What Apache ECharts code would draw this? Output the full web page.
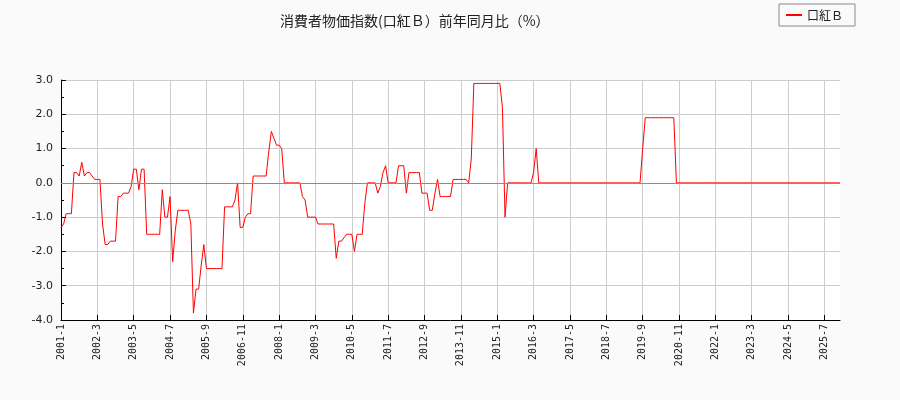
<!DOCTYPE html>
<html>
<head>
<meta charset="utf-8">
<script src="https://cdn.jsdelivr.net/npm/echarts@6/dist/echarts.min.js"></script>
<style>
html,body{margin:0;padding:0;background:#fafafa;}
#c{width:900px;height:400px;}
</style>
</head>
<body>
<div id="c"></div>
<script>
const titleText = '消費者物価指数(口紅Ｂ）前年同月比（%）';
const seriesName = '口紅Ｂ';
const startYear = 2001;
const monthCount = 301; // 2001-1 .. 2026-1
const categories = [];
for (let i = 0; i < monthCount; i++) {
  const y = startYear + Math.floor(i / 12);
  const m = (i % 12) + 1;
  categories.push(y + '-' + m);
}
const values = [
  // 2001
  -1.3, -1.2, -0.9, -0.9, -0.9, 0.3, 0.3, 0.2, 0.6, 0.2, 0.3, 0.3,
  // 2002
  0.2, 0.1, 0.1, 0.1, -1.2, -1.8, -1.8, -1.7, -1.7, -1.7, -0.4, -0.4,
  // 2003
  -0.3, -0.3, -0.3, -0.1, 0.4, 0.4, -0.2, 0.4, 0.4, -1.5, -1.5, -1.5,
  // 2004
  -1.5, -1.5, -1.5, -0.2, -1.0, -1.0, -0.4, -2.3, -1.4, -0.8, -0.8, -0.8,
  // 2005
  -0.8, -0.8, -1.2, -3.8, -3.1, -3.1, -2.4, -1.8, -2.5, -2.5, -2.5, -2.5,
  // 2006
  -2.5, -2.5, -2.5, -0.7, -0.7, -0.7, -0.7, -0.5, 0.0, -1.3, -1.3, -1.0,
  // 2007
  -0.9, -0.9, 0.2, 0.2, 0.2, 0.2, 0.2, 0.2, 0.9, 1.5, 1.3, 1.1,
  // 2008
  1.1, 1.0, 0.0, 0.0, 0.0, 0.0, 0.0, 0.0, 0.0, -0.4, -0.5, -1.0,
  // 2009
  -1.0, -1.0, -1.0, -1.2, -1.2, -1.2, -1.2, -1.2, -1.2, -1.2, -2.2, -1.7,
  // 2010
  -1.7, -1.6, -1.5, -1.5, -1.5, -2.0, -1.5, -1.5, -1.5, -0.6, 0.0, 0.0,
  // 2011
  0.0, 0.0, -0.3, -0.1, 0.3, 0.5, 0.0, 0.0, 0.0, 0.0, 0.5, 0.5,
  // 2012
  0.5, -0.3, 0.3, 0.3, 0.3, 0.3, 0.3, -0.3, -0.3, -0.3, -0.8, -0.8,
  // 2013
  -0.3, 0.1, -0.4, -0.4, -0.4, -0.4, -0.4, 0.1, 0.1, 0.1, 0.1, 0.1,
  // 2014
  0.1, 0.0, 0.7, 2.9, 2.9, 2.9, 2.9, 2.9, 2.9, 2.9, 2.9, 2.9,
  // 2015
  2.9, 2.9, 2.2, -1.0, 0.0, 0.0, 0.0, 0.0, 0.0, 0.0, 0.0, 0.0,
  // 2016
  0.0, 0.0, 0.3, 1.0, 0.0, 0.0, 0.0, 0.0, 0.0, 0.0, 0.0, 0.0,
  // 2017
  0.0, 0.0, 0.0, 0.0, 0.0, 0.0, 0.0, 0.0, 0.0, 0.0, 0.0, 0.0,
  // 2018
  0.0, 0.0, 0.0, 0.0, 0.0, 0.0, 0.0, 0.0, 0.0, 0.0, 0.0, 0.0,
  // 2019
  0.0, 0.0, 0.0, 0.0, 0.0, 0.0, 0.0, 0.0, 1.0, 1.9, 1.9, 1.9,
  // 2020
  1.9, 1.9, 1.9, 1.9, 1.9, 1.9, 1.9, 1.9, 1.9, 0.0, 0.0, 0.0,
  // 2021
  0.0, 0.0, 0.0, 0.0, 0.0, 0.0, 0.0, 0.0, 0.0, 0.0, 0.0, 0.0,
  // 2022
  0.0, 0.0, 0.0, 0.0, 0.0, 0.0, 0.0, 0.0, 0.0, 0.0, 0.0, 0.0,
  // 2023
  0.0, 0.0, 0.0, 0.0, 0.0, 0.0, 0.0, 0.0, 0.0, 0.0, 0.0, 0.0,
  // 2024
  0.0, 0.0, 0.0, 0.0, 0.0, 0.0, 0.0, 0.0, 0.0, 0.0, 0.0, 0.0,
  // 2025
  0.0, 0.0, 0.0, 0.0, 0.0, 0.0, 0.0, 0.0, 0.0, 0.0, 0.0, 0.0,
  // 2026
  0.0
];
const yMin = -4, yMax = 3, yStep = 1;
const zeroLevel = 0;

const chart = echarts.init(document.getElementById('c'), null, {renderer: 'canvas'});
chart.setOption({
  backgroundColor: '#fafafa',
  animation: false,
  title: {
    text: titleText,
    left: 275,
    top: 9,
    textStyle: {fontFamily: 'Noto Sans CJK JP', fontSize: 14, fontWeight: 'normal', color: '#222'}
  },
  legend: {
    data: [seriesName],
    right: 45,
    top: 4,
    orient: 'horizontal',
    borderColor: '#888',
    borderWidth: 1,
    borderRadius: 0,
    padding: [5, 12, 5, 7],
    icon: 'rect',
    itemWidth: 16,
    itemHeight: 2,
    itemGap: 5,
    textStyle: {fontFamily: 'Noto Sans CJK JP', fontSize: 12, color: '#222'}
  },
  grid: {
    left: 61, right: 60, top: 80, bottom: 80,
    show: true, backgroundColor: '#ffffff', borderWidth: 0
  },
  xAxis: {
    type: 'category',
    data: categories,
    boundaryGap: false,
    axisLine: {show: true, onZero: false, lineStyle: {color: '#000', width: 1}},
    axisTick: {show: true, inside: true, interval: 13, length: 5, lineStyle: {color: '#000'}},
    axisLabel: {interval: 13, rotate: 90, fontFamily: 'DejaVu Sans Mono', fontSize: 10, color: '#222', margin: 4},
    splitLine: {show: true, interval: 13, lineStyle: {color: '#cccccc', width: 1}}
  },
  yAxis: {
    type: 'value',
    min: yMin, max: yMax, interval: yStep,
    axisLine: {show: true, onZero: false, lineStyle: {color: '#000', width: 1}},
    axisTick: {show: true, inside: true, length: 5, lineStyle: {color: '#000'}},
    minorTick: {show: true, splitNumber: 2, length: 3, lineStyle: {color: '#000'}},
    axisLabel: {formatter: v => v.toFixed(1), fontFamily: 'DejaVu Sans', fontSize: 11, color: '#222', margin: 8},
    splitLine: {show: true, lineStyle: {color: '#cccccc', width: 1}}
  },
  series: [
    {
      name: 'zero',
      type: 'line',
      data: [],
      z: 1,
      silent: true,
      markLine: {
        silent: true, symbol: 'none', label: {show: false},
        lineStyle: {color: '#00ee00', width: 1, type: 'solid'},
        data: [{yAxis: zeroLevel}]
      }
    },
    {
      name: seriesName,
      type: 'line',
      data: values,
      z: 3,
      showSymbol: false,
      symbol: 'none',
      lineStyle: {color: '#ff0000', width: 1},
      itemStyle: {color: '#ff0000'}
    }
  ]
});
</script>
</body>
</html>
